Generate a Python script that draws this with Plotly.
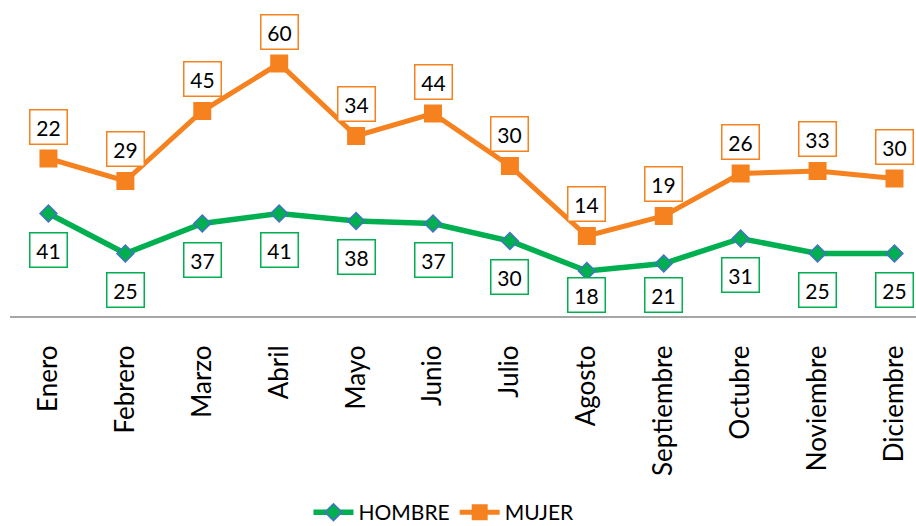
import plotly.graph_objects as go
import numpy as np

months = ["Enero", "Febrero", "Marzo", "Abril", "Mayo", "Junio", "Julio",
          "Agosto", "Septiembre", "Octubre", "Noviembre", "Diciembre"]
hombre = [41, 25, 37, 41, 38, 37, 30, 18, 21, 31, 25, 25]
mujer = [22, 29, 45, 60, 34, 44, 30, 14, 19, 26, 33, 30]

GREEN = "#00B050"
ORANGE = "#F5821F"
FONT = "Lato"

Y_MAX = 120
PLOT_H = 526 - 16 - 210
PX_PER_UNIT = PLOT_H / Y_MAX

fig = go.Figure()
fig.add_trace(go.Scatter(
    x=months, y=hombre, name="HOMBRE", stackgroup="one", fill="none",
    mode="lines+markers",
    line=dict(color=GREEN, width=5.5),
    marker=dict(symbol="diamond", size=13, color=GREEN,
                line=dict(color="#4472C4", width=1.5)),
))
fig.add_trace(go.Scatter(
    x=months, y=mujer, name="MUJER", stackgroup="one", fill="none",
    mode="lines+markers",
    line=dict(color=ORANGE, width=5),
    marker=dict(symbol="square", size=18, color=ORANGE),
))

top = np.array(hombre) + np.array(mujer)
for m, v in zip(months, hombre):
    # keep the label box inside the plot area (like the original chart)
    shift = min(36.0, v * PX_PER_UNIT - 21.0)
    fig.add_annotation(x=m, y=v, text=str(v), showarrow=False, yshift=-shift,
                       font=dict(family=FONT, size=21, color="#000000"),
                       bordercolor=GREEN, borderwidth=1.5, borderpad=2,
                       bgcolor="white", width=32, height=29)
for m, v, t in zip(months, mujer, top):
    fig.add_annotation(x=m, y=float(t), text=str(v), showarrow=False, yshift=32,
                       font=dict(family=FONT, size=21, color="#000000"),
                       bordercolor=ORANGE, borderwidth=1.5, borderpad=2,
                       bgcolor="white", width=32, height=29)

fig.update_layout(
    width=916, height=526,
    margin=dict(l=10, r=0, t=16, b=210, autoexpand=False),
    paper_bgcolor="white", plot_bgcolor="white",
    showlegend=True,
    legend=dict(orientation="h", x=0.479, xanchor="center", y=-0.655, yanchor="middle",
                font=dict(family=FONT, size=21, color="#000000"),
                traceorder="normal", itemwidth=40),
    font=dict(family=FONT),
)
fig.update_xaxes(range=[-0.5, 11.28], showline=True, linecolor="#A6A6A6", linewidth=2,
                 showgrid=False, zeroline=False, tickangle=-90,
                 ticklabelstandoff=17, automargin=False,
                 tickfont=dict(family=FONT, size=26, color="#000000"))
fig.update_yaxes(range=[0, Y_MAX], visible=False, showgrid=False, zeroline=False,
                 automargin=False)

fig.write_html("out.html", config={"displayModeBar": False},
               post_script="document.body.style.margin='0';document.body.style.overflow='hidden';")
